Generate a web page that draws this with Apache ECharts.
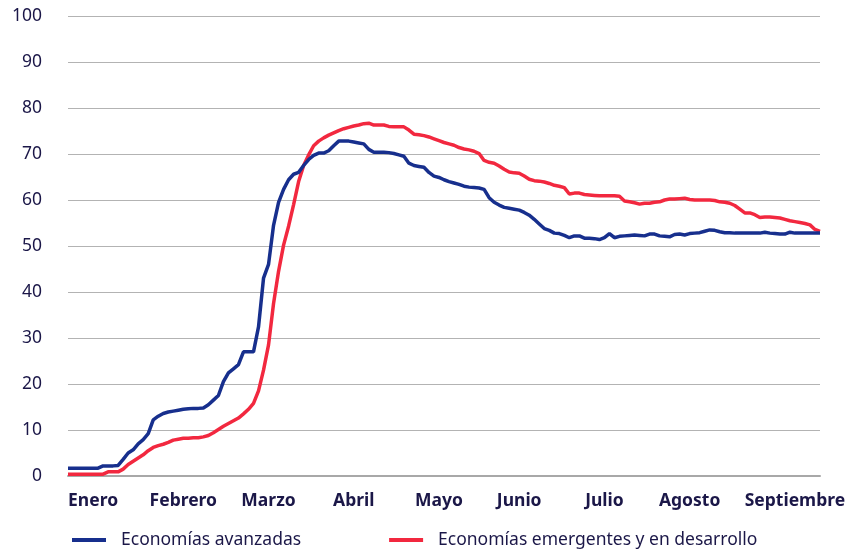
<!DOCTYPE html>
<html>
<head>
<meta charset="utf-8">
<script src="https://cdn.jsdelivr.net/npm/echarts@6/dist/echarts.min.js"></script>
<style>html,body{margin:0;padding:0;background:#fff;}#c{width:850px;height:551px;}</style>
</head>
<body>
<div id="c"></div>
<script>
var months = ['Enero','Febrero','Marzo','Abril','Mayo','Junio','Julio','Agosto','Septiembre'];
var monthIndex = [5,23,40,57,74,90,107,124,145];
var yTicks = [0,10,20,30,40,50,60,70,80,90,100];
var avanzadas = [
1.7,1.7,1.7,1.7,1.7,1.7,1.7,2.2,2.2,2.2,
2.3,3.6,5.0,5.7,7.0,7.9,9.2,12.2,13.0,13.6,
13.9,14.1,14.3,14.5,14.6,14.7,14.7,14.8,15.5,16.5,
17.5,20.5,22.4,23.3,24.2,27.0,27.0,27.0,32.4,43.0,
46.0,54.5,59.5,62.3,64.4,65.6,66.0,67.5,68.8,69.7,
70.2,70.2,70.7,71.8,72.8,72.8,72.8,72.6,72.4,72.2,
71.0,70.4,70.4,70.4,70.3,70.1,69.8,69.5,68.0,67.5,
67.3,67.1,66.0,65.2,64.9,64.4,64.0,63.7,63.4,63.0,
62.8,62.7,62.6,62.3,60.5,59.5,58.9,58.4,58.2,58.0,
57.8,57.3,56.7,55.8,54.8,53.8,53.4,52.8,52.7,52.3,
51.8,52.2,52.2,51.7,51.7,51.6,51.4,51.8,52.7,51.8,
52.1,52.2,52.3,52.4,52.3,52.2,52.6,52.6,52.2,52.1,
52.0,52.5,52.6,52.4,52.7,52.8,52.9,53.2,53.5,53.4,
53.1,52.9,52.9,52.8,52.8,52.8,52.8,52.8,52.8,53.0,
52.8,52.7,52.6,52.6,53.0,52.8,52.8,52.8,52.8,52.8,
52.8
];
var emergentes = [
0.4,0.4,0.4,0.4,0.4,0.4,0.4,0.4,0.9,0.9,
0.9,1.5,2.5,3.2,3.9,4.6,5.5,6.2,6.6,6.9,
7.3,7.8,8.0,8.2,8.2,8.3,8.3,8.5,8.8,9.4,
10.1,10.8,11.4,12.0,12.6,13.5,14.5,15.8,18.5,23.0,
28.5,37.5,44.5,50.2,54.3,59.0,64.0,67.5,69.8,71.8,
72.8,73.5,74.1,74.6,75.1,75.5,75.8,76.1,76.3,76.6,
76.7,76.3,76.3,76.3,76.0,75.9,75.9,75.9,75.2,74.3,
74.2,74.0,73.7,73.3,72.9,72.5,72.2,71.9,71.4,71.1,
70.9,70.6,70.1,68.6,68.2,68.0,67.4,66.7,66.1,65.9,
65.8,65.2,64.5,64.2,64.1,63.9,63.6,63.2,63.0,62.7,
61.3,61.5,61.5,61.2,61.1,61.0,60.9,60.9,60.9,60.9,
60.8,59.8,59.6,59.4,59.1,59.3,59.3,59.5,59.6,60.0,
60.2,60.2,60.3,60.4,60.1,60.0,60.0,60.0,60.0,59.9,
59.6,59.5,59.3,58.8,58.0,57.2,57.2,56.8,56.2,56.3,
56.3,56.2,56.1,55.8,55.5,55.3,55.1,54.9,54.6,53.6,
53.2
];
var seriesNames = ['Economías avanzadas','Economías emergentes y en desarrollo'];

var categories = avanzadas.map(function(_, i){
  var k = monthIndex.indexOf(i);
  return k >= 0 ? months[k] : '';
});

var textColor = '#1b1748';
var chart = echarts.init(document.getElementById('c'), null, {renderer:'canvas'});
chart.setOption({
  animation: false,
  backgroundColor: '#ffffff',
  grid: {left: 68, right: 30, top: 16, bottom: 75, containLabel: false},
  legend: {
    left: 67, top: 526,
    itemWidth: 34, itemHeight: 4, itemGap: 88,
    icon: 'rect',
    textStyle: {fontFamily: 'Noto Sans', fontSize: 17.5, color: textColor, padding: [0,0,0,10]},
    data: seriesNames
  },
  xAxis: {
    type: 'category',
    data: categories,
    boundaryGap: false,
    axisLine: {lineStyle: {color: '#a8a8a8', width: 2}},
    axisTick: {show: false},
    splitLine: {show: false},
    axisLabel: {
      interval: 0,
      margin: 16,
      fontFamily: 'Noto Sans', fontWeight: 'bold', fontSize: 17.5, color: textColor
    }
  },
  yAxis: {
    type: 'value',
    min: yTicks[0], max: yTicks[yTicks.length-1], interval: 10,
    axisLine: {show: false},
    axisTick: {show: false},
    splitLine: {lineStyle: {color: '#b3b3b3', width: 1}},
    axisLabel: {margin: 26, fontFamily: 'Noto Sans', fontSize: 17.5, color: textColor}
  },
  series: [
    {name: seriesNames[0], type: 'line', data: avanzadas, showSymbol: false, symbol: 'none',
     lineStyle: {color: '#172f8d', width: 3.5}, itemStyle: {color: '#172f8d'}, z: 3},
    {name: seriesNames[1], type: 'line', data: emergentes, showSymbol: false, symbol: 'none',
     lineStyle: {color: '#f2283f', width: 3.5}, itemStyle: {color: '#f2283f'}, z: 2}
  ]
});
</script>
</body>
</html>
